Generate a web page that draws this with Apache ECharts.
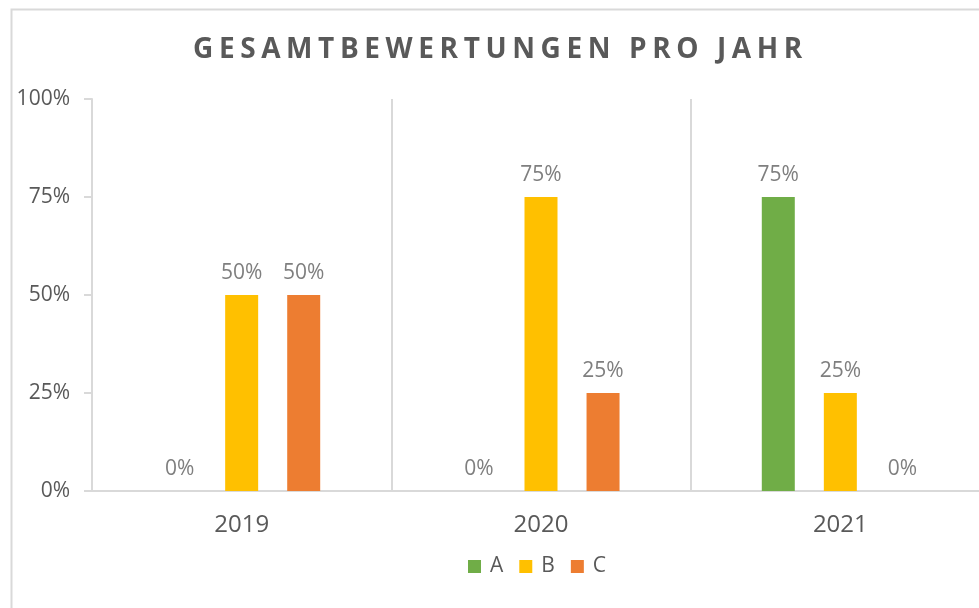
<!DOCTYPE html>
<html>
<head>
<meta charset="utf-8">
<script src="https://cdn.jsdelivr.net/npm/echarts@6/dist/echarts.min.js"></script>
<style>
  html, body { margin: 0; padding: 0; background: #fff; }
  #wrap { position: relative; width: 979px; height: 608px; overflow: hidden; }
  #chart { width: 979px; height: 608px; }
  /* the title needs wide letter spacing, which canvas text can't do */
  #title {
    position: absolute; left: 193px; top: 33px;
    font: bold 28px/28px "Open Sans", sans-serif;
    letter-spacing: 5.6px; color: #595959; white-space: nowrap;
  }
</style>
</head>
<body>
<div id="wrap">
  <div id="chart"></div>
  <div id="title">GESAMTBEWERTUNGEN PRO JAHR</div>
</div>
<script>
const years = ['2019', '2020', '2021'];
const seriesA = [0, 0, 0.75];
const seriesB = [0.5, 0.75, 0.25];
const seriesC = [0.5, 0.25, 0];
const yTicks = [0, 0.25, 0.5, 0.75, 1];

const pct = v => Math.round(v * 100) + '%';
const font = '"Open Sans", sans-serif';

const chart = echarts.init(document.getElementById('chart'));

// shared bar look
const bar = (name, data, color) => ({
  name,
  type: 'bar',
  data,
  barWidth: 33,
  barGap: '88%',
  itemStyle: { color },
  label: {
    show: true,
    position: 'top',
    distance: 11,
    formatter: p => pct(p.value),
    color: '#7f7f7f',
    fontFamily: font,
    fontSize: 21
  }
});

chart.setOption({
  animation: false,
  backgroundColor: '#fff',
  graphic: [{
    type: 'rect',
    left: 9,
    top: 7,
    z: -1,
    shape: { width: 1200, height: 800 },
    style: { fill: 'none', stroke: '#d9d9d9', lineWidth: 2 }
  }],
  legend: {
    top: 556,
    left: 468,
    padding: 0,
    icon: 'rect',
    itemWidth: 13,
    itemHeight: 13,
    itemGap: 16,
    textStyle: { fontFamily: font, fontSize: 21, color: '#595959', padding: [0, 0, 0, 4] },
    data: ['A', 'B', 'C']
  },
  grid: { left: 92, top: 99, width: 898, height: 392, outerBoundsMode: 'none', containLabel: false },
  xAxis: {
    type: 'category',
    data: years,
    axisLine: { lineStyle: { color: '#d9d9d9', width: 2 } },
    axisTick: { show: false },
    splitLine: { show: true, lineStyle: { color: '#d9d9d9', width: 2 } },
    axisLabel: { margin: 22, fontFamily: font, fontSize: 24, color: '#595959' }
  },
  yAxis: {
    type: 'value',
    min: yTicks[0],
    max: yTicks[yTicks.length - 1],
    interval: 0.25,
    axisLine: { show: true, lineStyle: { color: '#d9d9d9', width: 2 } },
    axisTick: { show: true, length: 8, lineStyle: { color: '#d9d9d9', width: 2 } },
    splitLine: { show: false },
    axisLabel: { margin: 22, formatter: pct, fontFamily: font, fontSize: 21, color: '#595959' }
  },
  series: [
    bar('A', seriesA, '#70ad47'),
    bar('B', seriesB, '#ffc000'),
    bar('C', seriesC, '#ed7d31')
  ]
});
</script>
</body>
</html>
